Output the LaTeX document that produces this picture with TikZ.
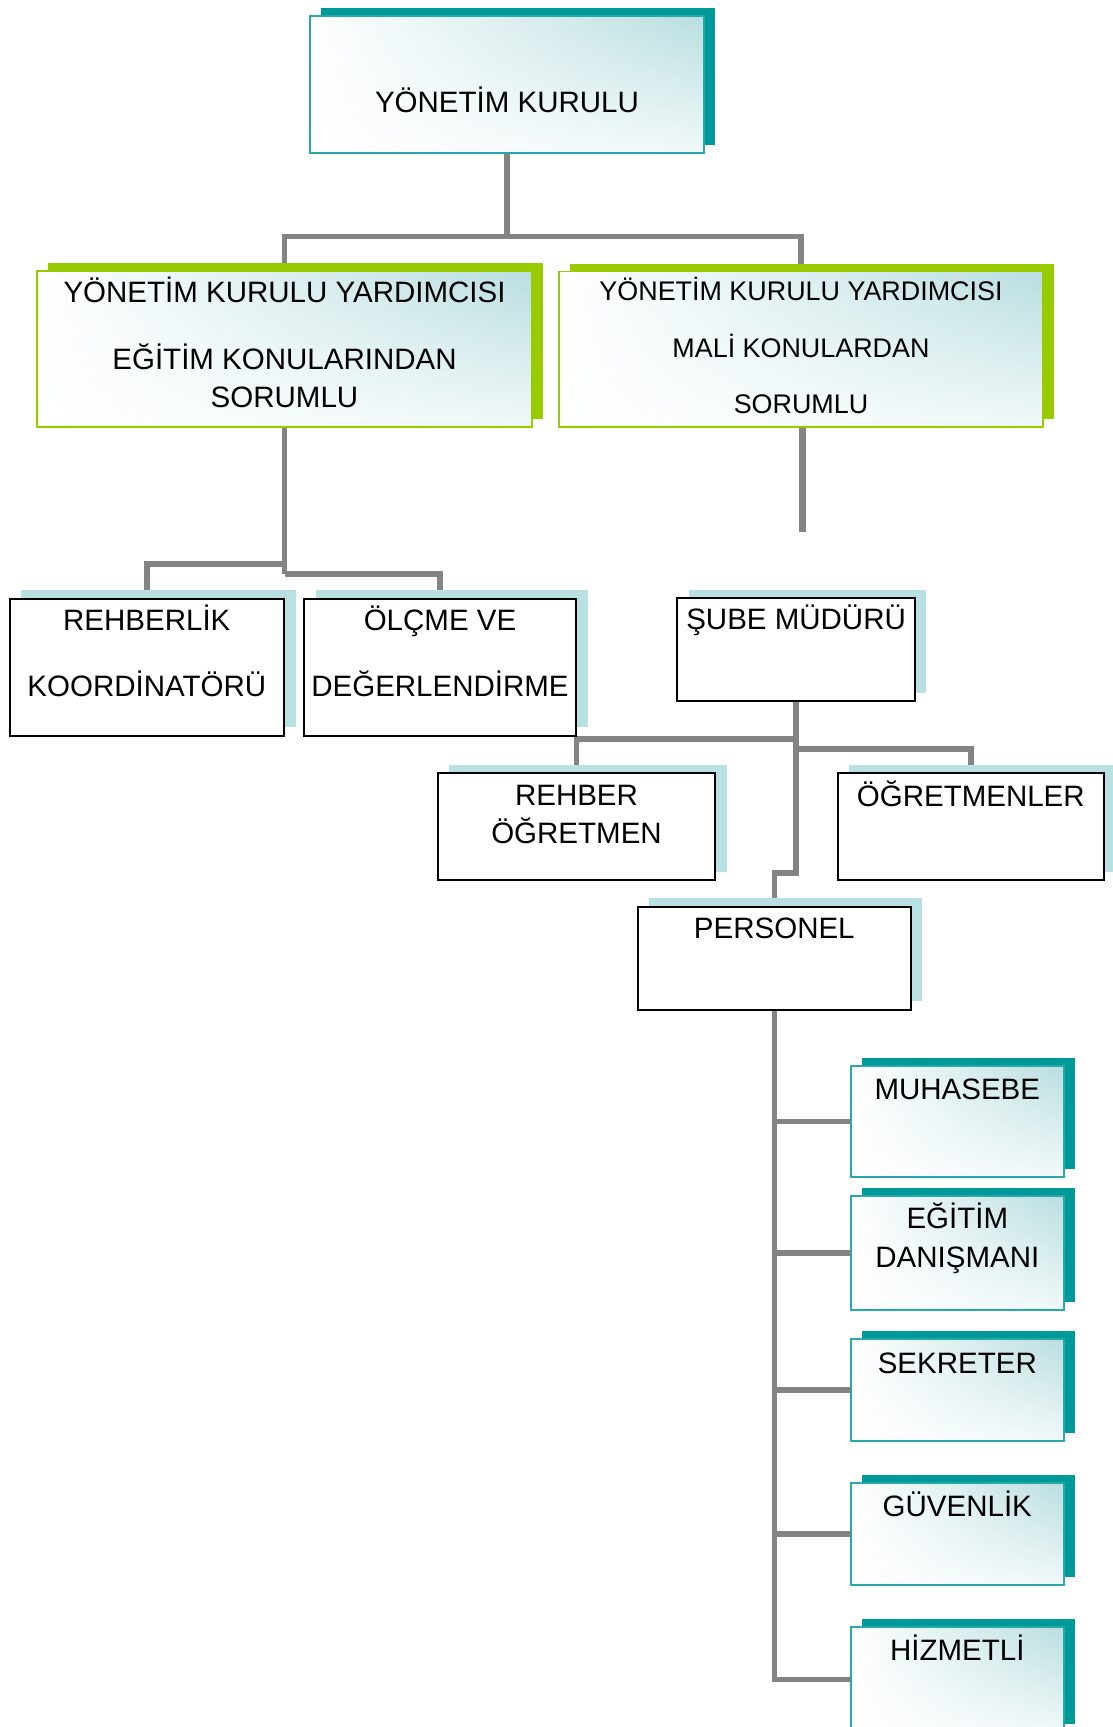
\documentclass[tikz,border=0pt]{standalone}
\usepackage{fontspec}
\setmainfont{Liberation Sans}
\usetikzlibrary{shadows,backgrounds,shadings}
\definecolor{tealD}{RGB}{0,153,153}
\definecolor{tealB}{RGB}{40,168,168}
\definecolor{tealL}{RGB}{185,222,224}
\definecolor{greenD}{RGB}{153,204,0}
\definecolor{lblue}{RGB}{185,224,227}
\definecolor{connC}{RGB}{132,132,132}
\newcommand\tst{\rule{0pt}{27.16pt}}
\newcommand\tsts{\rule{0pt}{24.68pt}}
\tikzset{
  basebox/.style={inner sep=0pt, outer sep=0pt},
  tealbox/.style={basebox, draw=tealB, line width=2pt,
    upper left=white, lower left=white, lower right=white!80!tealL, upper right=tealL,
    general shadow={fill=tealD, shadow xshift=11pt, shadow yshift=8pt}},
  greenbox/.style={basebox, draw=greenD, line width=1.6pt,
    upper left=white, lower left=white, lower right=white!80!tealL, upper right=tealL,
    general shadow={fill=greenD, shadow xshift=11pt, shadow yshift=8pt}},
  whitebox/.style={basebox, draw=black, line width=2pt, fill=white,
    general shadow={fill=lblue, shadow xshift=11.5pt, shadow yshift=8.5pt}},
  txt/.style={inner sep=0pt, outer sep=0pt, anchor=north, align=center,
    font=\fontsize{29.5}{38.5}\selectfont},
  txts/.style={txt, font=\fontsize{26.9}{56.5}\selectfont},
  conn/.style={draw=connC, line width=5.5pt},
}
\begin{document}
\begin{tikzpicture}[x=1pt,y=-1pt]
\useasboundingbox (0,0) rectangle (1113,1727);
% boxes
\node[tealbox, minimum width=394pt, minimum height=137pt] (T) at (507,84.5) {};
\node[greenbox, minimum width=495pt, minimum height=156pt] (G1) at (284.5,349) {};
\node[greenbox, minimum width=484pt, minimum height=155.5pt] (G2) at (801,349.25) {};
\node[whitebox, minimum width=274.4pt, minimum height=136.7pt] (R1) at (146.8,667.3) {};
\node[whitebox, minimum width=272pt, minimum height=136.7pt] (R2) at (440,667.3) {};
\node[whitebox, minimum width=237.4pt, minimum height=102.7pt] (S) at (796.1,649.7) {};
\node[whitebox, minimum width=277.5pt, minimum height=107pt] (RO) at (576.5,826.5) {};
\node[whitebox, minimum width=266.3pt, minimum height=107pt] (OG) at (970.8,826.5) {};
\node[whitebox, minimum width=272.7pt, minimum height=103.3pt] (P) at (774.3,958.3) {};
\node[tealbox, minimum width=213.3pt, minimum height=110.7pt] (M1) at (957.3,1121.3) {};
\node[tealbox, minimum width=213.3pt, minimum height=114pt] (M2) at (957.3,1253) {};
\node[tealbox, minimum width=213.3pt, minimum height=101.4pt] (M3) at (957.3,1390) {};
\node[tealbox, minimum width=213.3pt, minimum height=101.7pt] (M4) at (957.3,1534.2) {};
\node[tealbox, minimum width=213.3pt, minimum height=105.3pt] (M5) at (957.3,1679.3) {};
% texts
\node[txt] (tT) at (507,85.4) {\tst YÖNETİM KURULU};
\node[txt] (tG1) at (284.5,275.1) {\tst YÖNETİM KURULU YARDIMCISI\\[28.5pt]EĞİTİM KONULARINDAN\\SORUMLU};
\node[txts] (tG2) at (801,276.25) {\tsts YÖNETİM KURULU YARDIMCISI\\MALİ KONULARDAN\\SORUMLU};
\node[txt] (tR1) at (146.8,603.2) {\tst REHBERLİK\\[27.5pt]KOORDİNATÖRÜ};
\node[txt] (tR2) at (440,603.2) {\tst ÖLÇME VE\\[27.5pt]DEĞERLENDİRME};
\node[txt] (tS) at (796.1,602.3) {\tst ŞUBE MÜDÜRÜ};
\node[txt] (tRO) at (576.5,778.4) {\tst REHBER\\[-0.7pt]ÖĞRETMEN};
\node[txt] (tOG) at (970.8,779.2) {\tst ÖĞRETMENLER};
\node[txt] (tP) at (774.3,911.7) {\tst PERSONEL};
\node[txt] (tM1) at (957.3,1072.2) {\tst MUHASEBE};
\node[txt] (tM2) at (957.3,1201.7) {\tst EĞİTİM\\DANIŞMANI};
\node[txt] (tM3) at (957.3,1346.4) {\tst SEKRETER};
\node[txt] (tM4) at (957.3,1489.7) {\tst GÜVENLİK};
\node[txt] (tM5) at (957.3,1633.7) {\tst HİZMETLİ};
% connectors
\coordinate (stub) at (802.7,531.7);
\begin{pgfonlayer}{background}
\draw[conn] (T.south) -- ++(0,83.5) coordinate (j1);
\draw[conn] (G1.north) |- (j1) -| (G2.north);
\draw[conn] (G1.south) -- ++(0,147) coordinate (j2);
\draw[conn] (j2) -| (R2.north);
\draw[conn] (G1.south |- 0,564) -| (R1.north);
\draw[conn, line width=7.5pt] (G2.south -| stub) -- (stub);
\draw[conn] (S.south) -- (S.south |- 0,873) -| (P.north);
\draw[conn] (S.south |- 0,739) -| (RO.north);
\draw[conn] (S.south |- 0,749) -| (OG.north);
\draw[conn] (P.south) |- (M5.west);
\foreach \m in {M1,M2,M3,M4} \draw[conn] (P.south |- \m.west) -- (\m.west);
\end{pgfonlayer}
\end{tikzpicture}
\end{document}
